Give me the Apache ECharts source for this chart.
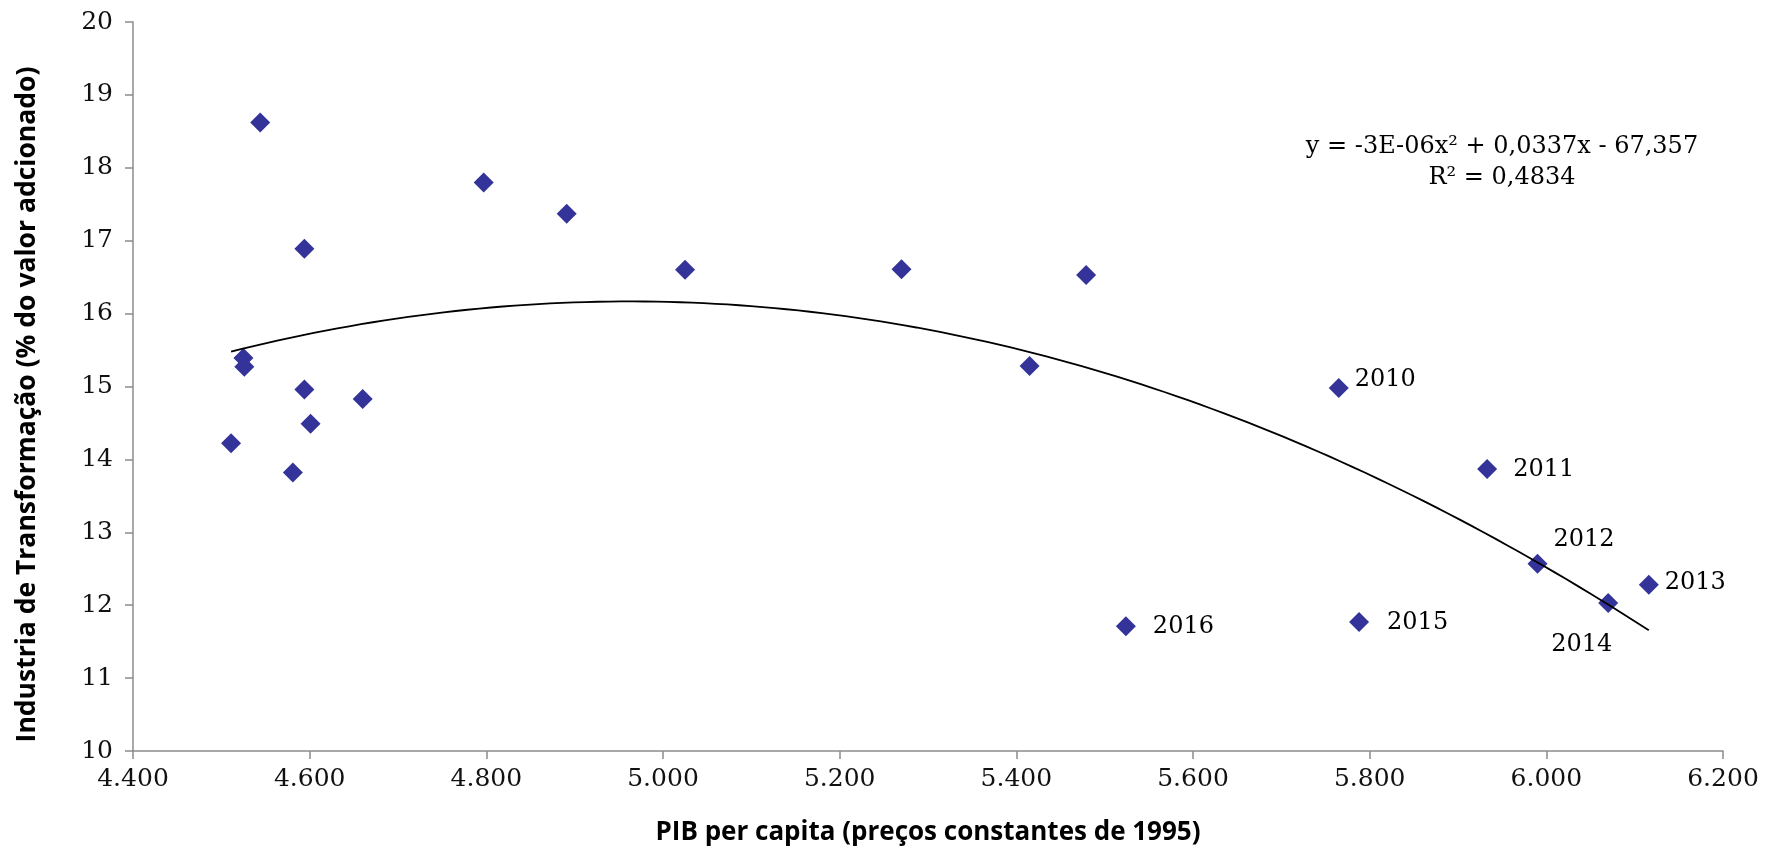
<!DOCTYPE html>
<html>
<head>
<meta charset="utf-8">
<script src="https://cdn.jsdelivr.net/npm/echarts@6/dist/echarts.min.js"></script>
<style>
  html, body { margin: 0; padding: 0; background: #ffffff; }
  #chart { width: 1774px; height: 858px; }
</style>
</head>
<body>
<div id="chart"></div>
<script>
// PIB per capita (preços constantes de 1995) de cada ano
const pibPerCapita = [4544, 4594, 4525, 4526, 4594, 4660, 4601, 4511, 4581, 4797, 4891, 5025, 5270, 5479, 5415,
                      5765, 5933, 5990, 6116, 6070, 5788, 5524];
// Participação da indústria de transformação (% do valor adicionado)
const industria = [18.62, 16.89, 15.39, 15.27, 14.96, 14.83, 14.49, 14.22, 13.82, 17.80, 17.37, 16.60, 16.61, 16.53, 15.28,
                   14.98, 13.87, 12.57, 12.28, 12.03, 11.77, 11.71];
// Rótulos de ano (apenas os anos recentes são identificados)
const rotulos = ['', '', '', '', '', '', '', '', '', '', '', '', '', '', '',
                 '2010', '2011', '2012', '2013', '2014', '2015', '2016'];

// Marcas dos eixos
const xTicks = [4400, 4600, 4800, 5000, 5200, 5400, 5600, 5800, 6000, 6200];
const yTicks = [10, 11, 12, 13, 14, 15, 16, 17, 18, 19, 20];

const equacao = 'y = -3E-06x\u00B2 + 0,0337x - 67,357';
const r2Texto = 'R\u00B2 = 0,4834';

// Posição de cada rótulo de ano em relação ao seu ponto
const posRotulo = {
  '2010': { distance: 6,  offset: [0, -8] },
  '2011': { distance: 16, offset: [0, 1] },
  '2012': { distance: 6,  offset: [0, -24] },
  '2013': { distance: 6,  offset: [0, -2] },
  '2014': { distance: 6,  offset: [-73, 42] },
  '2015': { distance: 18, offset: [0, 1] },
  '2016': { distance: 17, offset: [0, 0] }
};

// Ajuste polinomial de 2º grau por mínimos quadrados
function ajusteQuadratico(xs, ys) {
  const c = 5000, s = 1000;
  const S = [0, 0, 0, 0, 0], T = [0, 0, 0];
  xs.forEach((x0, i) => {
    const x = (x0 - c) / s;
    let p = 1;
    for (let k = 0; k < 5; k++) { S[k] += p; if (k < 3) T[k] += p * ys[i]; p *= x; }
  });
  const A = [[S[0], S[1], S[2], T[0]], [S[1], S[2], S[3], T[1]], [S[2], S[3], S[4], T[2]]];
  for (let i = 0; i < 3; i++) {
    for (let j = i + 1; j < 3; j++) {
      const f = A[j][i] / A[i][i];
      for (let k = i; k < 4; k++) A[j][k] -= f * A[i][k];
    }
  }
  const b = [0, 0, 0];
  for (let i = 2; i >= 0; i--) {
    let v = A[i][3];
    for (let k = i + 1; k < 3; k++) v -= A[i][k] * b[k];
    b[i] = v / A[i][i];
  }
  return x0 => { const x = (x0 - c) / s; return b[0] + b[1] * x + b[2] * x * x; };
}

const tendencia = ajusteQuadratico(pibPerCapita, industria);
const xMinDados = Math.min(...pibPerCapita), xMaxDados = Math.max(...pibPerCapita);
const curva = [];
for (let i = 0; i <= 120; i++) {
  const x = xMinDados + (xMaxDados - xMinDados) * i / 120;
  curva.push([x, tendencia(x)]);
}

const pontos = pibPerCapita.map((x, i) => {
  const item = { value: [x, industria[i]], name: rotulos[i] };
  const p = posRotulo[rotulos[i]];
  if (p) {
    item.label = { show: true, position: 'right', distance: p.distance, offset: p.offset };
  }
  return item;
});

const serif = '"DejaVu Serif", serif';
const sans = '"Open Sans", sans-serif';
const corEixo = '#8c8c8c';

const chart = echarts.init(document.getElementById('chart'), null, { renderer: 'canvas' });
chart.setOption({
  animation: false,
  backgroundColor: '#ffffff',
  grid: { left: 133, right: 51, top: 22, bottom: 107, containLabel: false },
  xAxis: {
    type: 'value',
    min: xTicks[0],
    max: xTicks[xTicks.length - 1],
    interval: xTicks[1] - xTicks[0],
    name: 'PIB per capita (preços constantes de 1995)',
    nameLocation: 'middle',
    nameGap: 69,
    nameTextStyle: { fontFamily: sans, fontWeight: 'bold', fontSize: 26, color: '#000' },
    axisLine: { lineStyle: { color: corEixo, width: 1.5 } },
    axisTick: { show: true, inside: false, length: 8, lineStyle: { color: corEixo, width: 1.5 } },
    axisLabel: {
      fontFamily: serif, fontSize: 25, color: '#111', margin: 16,
      formatter: v => (v / 1000).toFixed(3)
    },
    splitLine: { show: false }
  },
  yAxis: {
    type: 'value',
    min: yTicks[0],
    max: yTicks[yTicks.length - 1],
    interval: yTicks[1] - yTicks[0],
    name: 'Industria de Transformação (% do valor adcionado)',
    nameLocation: 'middle',
    nameGap: 92,
    nameTextStyle: {
      fontFamily: sans, fontWeight: 'bold', fontSize: 26.5, color: '#000',
      padding: [0, 36, 0, 0]
    },
    axisLine: { show: true, lineStyle: { color: corEixo, width: 1.5 } },
    axisTick: { show: true, inside: false, length: 8, lineStyle: { color: corEixo, width: 1.5 } },
    axisLabel: { fontFamily: serif, fontSize: 25, color: '#111', margin: 20 },
    splitLine: { show: false }
  },
  series: [
    {
      type: 'scatter',
      symbol: 'diamond',
      symbolSize: 20,
      itemStyle: { color: '#333399', opacity: 1 },
      label: {
        show: false,
        formatter: p => p.name,
        fontFamily: serif, fontSize: 24, color: '#000'
      },
      data: pontos,
      z: 2
    },
    {
      type: 'line',
      data: curva,
      showSymbol: false,
      smooth: false,
      lineStyle: { color: '#000000', width: 1.8 },
      z: 3,
      silent: true
    }
  ],
  graphic: [
    {
      type: 'text',
      x: 1502,
      y: 135,
      style: {
        text: equacao,
        font: '24px ' + serif,
        fill: '#000',
        align: 'center',
        verticalAlign: 'top'
      }
    },
    {
      type: 'text',
      x: 1502,
      y: 166,
      style: {
        text: r2Texto,
        font: '24px ' + serif,
        fill: '#000',
        align: 'center',
        verticalAlign: 'top'
      }
    }
  ]
});
</script>
</body>
</html>
